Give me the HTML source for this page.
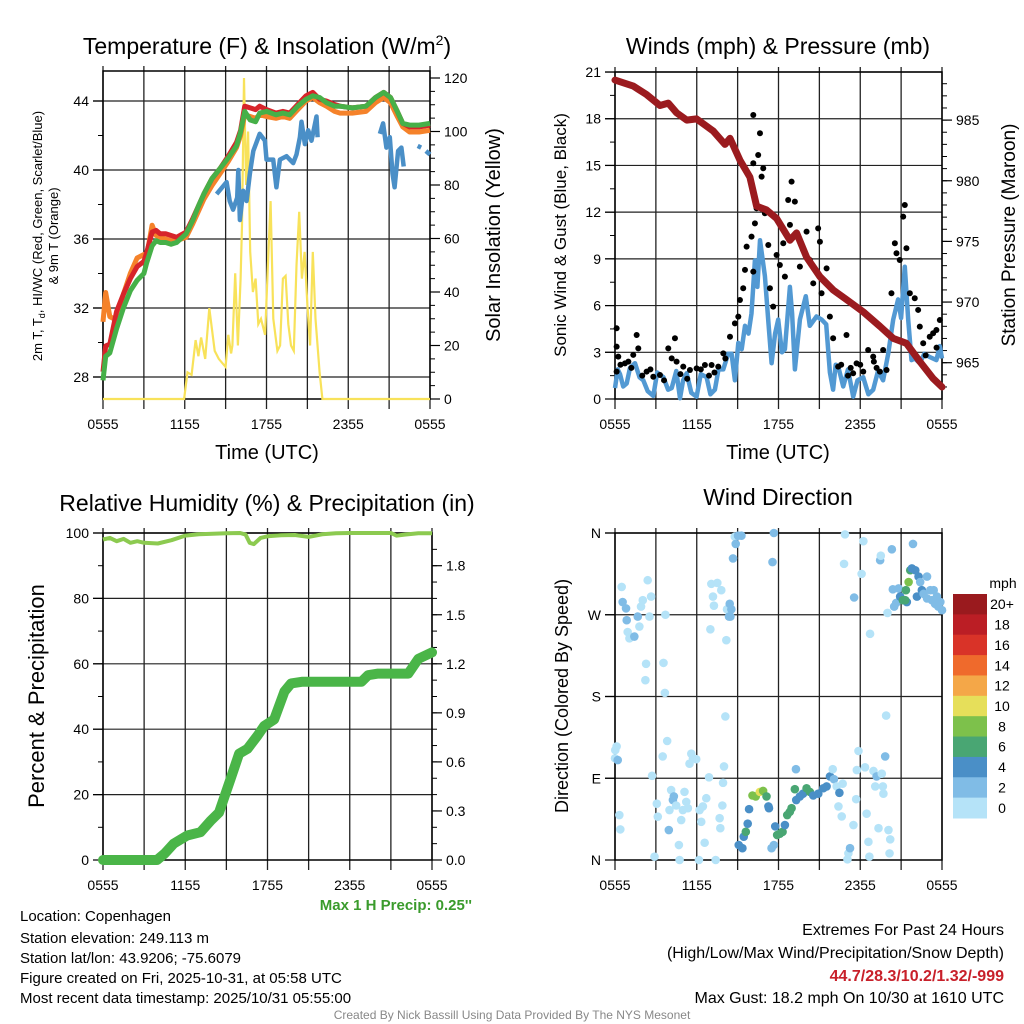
<!DOCTYPE html>
<html><head><meta charset="utf-8"><style>
html,body{margin:0;padding:0;background:#fff;}
svg{display:block;font-family:"Liberation Sans",Arial,sans-serif;}
</style></head><body>
<svg id="fig" width="1024" height="1024" viewBox="0 0 1024 1024" xmlns="http://www.w3.org/2000/svg">
<rect width="1024" height="1024" fill="#fff"/>
<text x="267" y="54" font-size="23" text-anchor="middle">Temperature (F) &amp; Insolation (W/m<tspan font-size="14" dy="-9">2</tspan><tspan dy="9">)</tspan></text>
<text x="778" y="54" font-size="23" text-anchor="middle">Winds (mph) &amp; Pressure (mb)</text>
<text x="267" y="511" font-size="23" text-anchor="middle">Relative Humidity (%) &amp; Precipitation (in)</text>
<text x="778" y="505" font-size="23" text-anchor="middle">Wind Direction</text>
<text x="267" y="459" font-size="20" text-anchor="middle">Time (UTC)</text>
<text x="778" y="459" font-size="20" text-anchor="middle">Time (UTC)</text>
<text transform="translate(42,236) rotate(-90)" font-size="13" text-anchor="middle">2m T, T<tspan font-size="9" dy="3">d</tspan><tspan dy="-3">, HI/WC (Red, Green, Scarlet/Blue)</tspan></text>
<text transform="translate(58,236) rotate(-90)" font-size="13" text-anchor="middle">&amp; 9m T (Orange)</text>
<text transform="translate(500,235) rotate(-90)" font-size="20" text-anchor="middle">Solar Insolation (Yellow)</text>
<text transform="translate(566,235) rotate(-90)" font-size="17" text-anchor="middle">Sonic Wind &amp; Gust (Blue, Black)</text>
<text transform="translate(1015,235) rotate(-90)" font-size="19" text-anchor="middle">Station Pressure (Maroon)</text>
<text transform="translate(44,696) rotate(-90)" font-size="22" text-anchor="middle">Percent &amp; Precipitation</text>
<text transform="translate(568,696) rotate(-90)" font-size="18" text-anchor="middle">Direction (Colored By Speed)</text>
<text x="472" y="910" font-size="15" font-weight="bold" fill="#3a9b2c" text-anchor="end">Max 1 H Precip: 0.25''</text>
<g font-size="15">
<text x="20" y="921">Location: Copenhagen</text>
<text x="20" y="943">Station elevation: 249.113 m</text>
<text x="20" y="963">Station lat/lon: 43.9206; -75.6079</text>
<text x="20" y="983">Figure created on Fri, 2025-10-31, at 05:58 UTC</text>
<text x="20" y="1003">Most recent data timestamp: 2025/10/31 05:55:00</text>
</g>
<g font-size="16" text-anchor="end">
<text x="1004" y="935">Extremes For Past 24 Hours</text>
<text x="1004" y="958">(High/Low/Max Wind/Precipitation/Snow Depth)</text>
<text x="1004" y="981" font-weight="bold" fill="#c8202a">44.7/28.3/10.2/1.32/-999</text>
<text x="1004" y="1003">Max Gust: 18.2 mph On 10/30 at 1610 UTC</text>
</g>
<text x="512" y="1019" font-size="12" fill="#888" text-anchor="middle">Created By Nick Bassill Using Data Provided By The NYS Mesonet</text>
<g id="charts"></g>
</svg>
<script>
const timeTickLabels=["0555","1155","1755","2355","0555"];
const tempT=[0,0.2,0.5,1.0,1.5,2.0,2.5,3.0,3.2,3.6,3.9,4.2,4.6,5.0,5.4,6.1,6.6,7.0,7.4,8.0,8.6,9.2,9.8,10.1,10.4,10.8,11.2,11.5,12.0,12.7,13.2,13.7,14.3,14.9,15.4,15.9,16.4,17.0,17.4,18.3,19.3,20.0,20.6,21.1,21.6,22.0,22.5,23.2,24];
const tempRed=[28.3,29.8,29.9,31.8,32.8,33.7,34.4,34.7,35.2,36.4,36.5,36.3,36.3,36.2,36.1,36.4,37.2,37.9,38.6,39.5,40.1,40.8,41.6,42.3,43.7,43.6,43.5,43.7,43.5,43.3,43.4,43.3,43.8,44.3,44.5,44.1,44.0,43.8,43.7,43.6,43.7,44.2,44.5,44.2,43.4,42.7,42.5,42.5,42.6];
const tempGreen=[27.8,29.2,29.4,30.8,32.0,33.0,33.6,34.0,34.6,35.6,35.9,35.8,35.8,35.7,35.8,36.3,37.1,37.9,38.6,39.5,40.1,40.7,41.4,42.2,43.4,42.9,42.8,43.3,43.4,43.2,43.3,43.2,43.7,44.1,44.3,44.2,43.9,43.7,43.7,43.6,43.7,44.2,44.5,44.2,43.4,42.7,42.6,42.6,42.7];
const tempOrange=[31.2,32.9,31.5,31.3,32.8,34.0,34.9,35.1,35.0,36.8,36.2,36.1,36.0,35.9,35.9,36.1,36.9,37.6,38.3,39.1,39.8,40.5,41.3,42.0,43.2,43.1,43.0,43.2,43.1,43.0,43.1,43.0,43.5,44.0,44.2,43.9,43.7,43.4,43.3,43.3,43.4,43.9,44.2,43.9,43.1,42.5,42.2,42.2,42.3];
const hiT=[8.34,9.07,9.3,9.55,9.85,9.93,10.05,10.29,10.54,10.78,11.03,11.5,11.88,12.0,12.49,12.73,12.98,13.47,13.96,14.2,14.45,14.57,14.82,15.06,15.3,15.67,15.75,16,20.32,20.56,20.8,21.05,21.25,21.4,21.66,21.9,22.07,22.5,23.1,23.35,23.5,23.7,24];
const hiVal=[38.6,39.3,38.2,37.7,38.4,40.0,37.1,38.8,38.2,39.8,41.1,42.1,41.7,40.6,40.6,39.0,40.6,40.8,40.4,40.9,41.9,42.8,41.5,42.3,41.7,43.1,41.9,null,42.1,42.7,41.3,41.9,39.8,39.0,41.1,41.3,40.2,null,41.4,41.3,null,41.1,40.9];
const solarT=[0,5.95,6.2,6.5,6.8,7.0,7.2,7.5,7.8,8.2,8.5,9.0,9.2,9.4,9.5,9.7,9.9,10.1,10.2,10.35,10.5,10.65,10.8,11.0,11.2,11.4,11.6,11.9,12.1,12.3,12.5,12.8,13.0,13.2,13.4,13.6,13.8,14.0,14.2,14.4,14.6,14.8,15.0,15.2,15.4,15.6,15.9,16.1,24];
const solarVal=[0,0,10,9,22,16,23,15,34,18,15,12,24,17,20,47,20,45,65,120,80,100,55,40,45,28,30,24,50,74,30,18,20,45,46,28,20,18,50,70,45,55,35,20,55,30,10,0,0];
const windT=[0,0.2,0.37,0.6,0.86,1.1,1.47,1.8,2.08,2.4,2.81,3.1,3.55,3.9,4.16,4.5,4.77,5.0,5.26,5.6,5.99,6.3,6.72,7.0,7.33,7.6,7.95,8.3,8.56,8.8,9.05,9.3,9.54,9.8,10.02,10.27,10.45,10.64,11.0,11.25,11.49,11.75,11.98,12.25,12.47,12.84,13.0,13.2,13.57,14.0,14.3,14.79,15.16,15.5,15.77,16.01,16.2,16.38,16.75,17.1,17.48,17.8,18.22,18.6,18.95,19.3,19.68,20.05,20.42,20.78,21.0,21.27,21.52,21.76,22.0,22.37,22.7,23.1,23.59,23.84,24];
const windVal=[0.7,1.9,1.6,0.8,1.0,2.0,2.3,1.4,1.2,0.5,0.2,1.7,1.4,0.6,0.7,1.8,0.05,1.2,1.65,0.4,0.15,1.6,1.4,0.3,0.6,1.9,1.9,2.9,2.9,1.2,3.6,3.2,4.7,4.2,5.5,8.9,7.2,10.2,7.9,5.0,2.3,4.2,5.1,3.0,3.2,7.2,5.5,1.9,5.1,6.6,4.7,5.3,5.1,4.8,1.7,0.6,2.2,2.1,0.8,1.9,0.15,1.2,1.4,0.3,0.6,1.8,1.2,2.9,5.1,6.4,5.2,8.5,5.1,2.5,2.6,2.3,2.9,2.7,2.5,3.4,2.6];
const gustT=[0.12,0.12,0.24,0.12,0.73,0.98,1.34,1.59,1.71,2.32,2.81,3.3,3.91,4.16,4.4,4.52,5.01,5.5,5.99,6.6,7.09,7.58,7.95,8.44,8.8,9.05,9.17,9.41,9.54,9.66,10.02,10.15,10.27,10.39,10.51,10.64,10.76,10.88,10.15,10.15,11.0,11.25,11.37,11.61,11.86,12.1,12.35,12.47,12.71,12.96,13.2,12.84,13.57,13.81,14.06,14.3,14.55,14.91,15.04,15.16,15.53,15.77,16.01,16.38,16.99,17.48,17.73,18.22,18.58,18.95,19.44,19.68,19.93,20.29,20.54,20.66,20.9,21.15,21.27,21.39,21.64,22.0,22.25,22.37,22.62,23.1,23.35,23.59,23.84,1.2,2.0,3.6,4.8,6.3,6.9,7.3,16.6,17.1,18.0,19.2,22.8,23.6,0.4,2.6,5.3,8.1,17.3,19.0];
const gustVal=[4.54,3.36,2.72,1.76,2.29,2.4,2.83,4.11,3.25,1.76,1.43,1.54,3.25,2.61,3.9,2.4,2.08,1.86,1.97,2.18,2.18,2.08,2.93,4.0,4.86,5.29,6.36,7.11,8.29,9.79,10.43,8.18,11.28,12.25,15.67,17.07,14.28,14.82,18.24,15.14,11.93,9.89,7.11,5.93,9.25,8.61,10.0,7.86,12.78,13.96,12.68,11.18,8.5,9.57,10.75,8.93,7.43,10.96,10.1,6.79,8.39,5.29,3.9,2.08,4.11,1.65,2.29,1.76,3.15,2.72,1.76,3.15,1.86,6.79,10.0,9.36,8.93,11.71,12.46,9.68,6.79,6.47,5.72,4.65,3.58,4.0,4.22,4.43,5.07,2.0,1.5,1.2,1.6,1.9,1.5,1.7,2.2,1.5,2.2,2.0,2.8,3.3,2.2,1.9,1.3,2.6,2.0,2.4];
const presT=[0,1.34,2.32,3.3,3.91,4.52,5.26,5.99,7.21,8.07,8.44,9.17,9.9,10.39,11.12,11.86,12.84,13.33,14.06,15.04,16.01,16.99,18.22,19.44,20.42,21.39,22.37,23.35,24];
const presVal=[988.3,987.8,987.1,986.2,986.4,985.6,985.0,985.1,984.1,983.0,983.5,981.7,980.3,977.9,977.6,976.9,975.1,975.7,973.7,972.1,971.0,970.2,969.2,968.0,967.0,966.6,965.1,963.7,963.0];
const rhT=[0,0.5,1.0,1.5,2.0,2.5,3.0,4.0,5.0,6.0,7.0,8.0,9.0,10.0,10.4,10.7,11.0,11.5,12.0,13.0,14.0,15.0,16.0,17.0,18.0,19.0,20.0,21.0,21.4,22.0,23.0,24];
const rhVal=[98,98.5,97.5,98.2,97,97.5,97,96.8,97.8,99.2,99.6,99.8,99.9,100,99.5,97,96.6,98.5,99,99.3,99.4,98.8,99.6,99.9,100,100,100,100,99.2,99.5,99.9,99.9];
const precipT=[0,3.94,4.5,5.16,6.14,7.11,7.85,8.46,9.32,9.93,10.54,11.27,11.76,12.49,13.23,13.72,14.5,18.85,19.34,20.07,22.27,23.0,24];
const precipVal=[0,0,0.04,0.1,0.15,0.17,0.24,0.29,0.5,0.65,0.68,0.76,0.82,0.86,1.03,1.08,1.09,1.09,1.13,1.14,1.14,1.23,1.27];
const dirT=[0.49,0.56,0.81,0.86,0.93,1.06,1.42,1.67,1.79,1.91,2.04,2.4,2.28,2.23,2.53,2.65,0.02,0.12,0,0.2,0.32,0.39,2.72,2.9,3.07,3.14,3.56,3.7,3.66,3.83,3.5,4.0,4.12,4.32,4.25,3.95,4.49,4.69,4.74,4.86,5.1,5.23,5.35,4.98,5.6,5.72,5.96,5.47,6.16,6.21,6.45,6.58,6.33,6.7,6.9,7.0,7.07,7.51,7.19,7.8,7.26,7.39,7.68,7.73,7.88,7.93,8.0,8.1,8.17,8.22,8.37,8.42,8.54,8.47,8.79,9.03,9.28,8.86,8.66,11.66,11.56,9.08,9.35,9.45,9.6,9.74,9.84,10.09,10.33,10.63,10.87,11.12,11.26,11.3,11.49,11.66,11.76,11.9,12.1,12.3,12.47,12.64,12.83,12.96,13.2,13.3,13.57,13.8,14.06,14.3,14.55,14.92,15.29,15.53,15.78,16.07,13.28,15.98,16.27,16.47,16.4,16.64,16.71,16.88,16.81,17.5,17.13,17.25,17.06,17.55,17.7,17.87,17.75,18.1,18.23,18.35,18.47,18.6,18.67,18.72,18.97,19.1,19.2,19.46,19.51,19.34,19.58,19.66,19.7,19.83,19.9,20.0,20.07,20.2,20.15,20.32,20.39,20.49,20.64,20.81,20.93,21.13,21.35,21.42,21.3,21.55,21.67,21.79,21.87,22.04,22.16,22.28,22.4,22.52,22.65,22.9,22.9,23.14,23.39,23.63,23.88,24,23.73,23.49,23.26];
const dirDeg=[300.6,284,277,264,251,244,246,268,257,279,286,308,216,198,268,290,121,125,112,110,49.5,33.7,92.7,3.7,62,47.7,217,270,184,131,114,55,77,70,66,33,60,16.5,0,44,75,64,57,55,117,112,111,106,0,55,59,19,42,68,91,254,304,305,290,297,280,0,46,35,60,85,103,158,242,276,268,282,276,268,356,357,357,348,332,360,328,16.5,13,25.7,31,40,56,71,70,75,76,70,59,57,13,16.5,37,27.5,29,31,38.5,49.5,53,57,78,66,70,73,79,75,71,73,79,81,92,89,100,100,81,74,59,48,84,358.5,326,38.5,7.3,13,0.7,289,67,120,99,315,351,102,51,20,3.7,249,98,81,92,330,335,35,95,81,73,114,159,272,33,22.7,7.3,342,298,279,283,299,290,286,297,284,286,306,319,321,348,319,290,312,306,297,293,312,288,297,297,290,284,275,279,282,286];
const dirSpd=[1,3,3,3,1,1,3,3,1,1,1,1,1,1,1,1,1,1,1,3,1,1,1,1,1,1,1,1,1,1,1,1,1,3,3,3,1,1,1,1,1,1,1,1,1,1,1,1,1,1,1,1,1,1,1,1,1,1,1,1,1,1,1,1,1,1,1,1,1,1,3,3,3,3,1,3,3,3,3,3,3,4,4,4,6,4,4,8,8,10,8,6,4,4,3,3,4,6,6,6,4,6,6,6,6,4,4,4,6,6,4,4,4,4,4,3,3,1,1,4,1,1,1,1,1,1,1,3,1,3,1,1,1,1,1,1,1,1,1,1,1,1,3,3,1,1,1,1,1,3,1,1,1,1,1,3,3,3,3,3,4,6,6,4,6,8,6,4,3,4,4,4,3,4,3,3,3,3,3,3,3,3,3,3,3,3,3,3,3];
const cbLabels=["20+","18","16","14","12","10","8","6","4","2","0"];
const cbColors=["#9a1a1e","#bb1e25","#d93328","#ef6a2c","#f4a748","#e6df5a","#7dc14b","#49a673","#4a8fc7","#80bce6","#b5e3f8"];

const NS="http://www.w3.org/2000/svg";
const root=document.getElementById('charts');
function mk(tag,attrs,parent){const e=document.createElementNS(NS,tag);for(const k in attrs)e.setAttribute(k,attrs[k]);(parent||root).appendChild(e);return e;}
function pathD(ts,vs,sx,sy){let d="",pen=false;for(let i=0;i<ts.length;i++){if(vs[i]===null){pen=false;continue;}d+=(pen?"L":"M")+sx(ts[i]).toFixed(1)+" "+sy(vs[i]).toFixed(1);pen=true;}return d;}
function speedColor(s){const idx=Math.min(10,Math.floor(s/2));return cbColors[10-idx];}

function frame(name,x0,x1,y0,y1,hGrid,sy){
  const g=mk('g',{});
  
  
  for(let h=0;h<=24;h+=3){const x=x0+(x1-x0)*h/24;const l=mk('line',{x1:x,x2:x,y1:y0-5,y2:y1+10,stroke:'#222','stroke-width':1.3},g);
    
    }
  for(let i=0;i<5;i++){const t=mk('text',{x:x0+(x1-x0)*i/4,y:y1+30,'font-size':14,'text-anchor':'middle'},g);t.textContent=timeTickLabels[i];
    
    }
  hGrid.forEach(v=>{const y=sy(v);const l=mk('line',{x1:x0-10,x2:x1,y1:y,y2:y,stroke:'#222','stroke-width':1.2},g);
    
    });
  const r=mk('rect',{x:x0,y:y0,width:x1-x0,height:y1-y0,fill:'none',stroke:'#000','stroke-width':1.5},g);
  
  
  return g;
}
function yTicks(name,x,side,vals,sy,labels,minor){
  const dir=side==='left'?-1:1;
  vals.forEach((v,i)=>{const y=sy(v);mk('line',{x1:x,x2:x+dir*10,y1:y,y2:y,stroke:'#000','stroke-width':1.2});
    const t=mk('text',{x:x+dir*14,y:y+5,'font-size':14,'text-anchor':side==='left'?'end':'start'});t.textContent=labels[i];
    
    });
  (minor||[]).forEach(v=>{const y=sy(v);mk('line',{x1:x,x2:x+dir*5,y1:y,y2:y,stroke:'#000','stroke-width':1});});
}
function range(a,b,s){const r=[];for(let v=a;v<=b+1e-9;v+=s)r.push(Math.round(v*100)/100);return r;}

// Panel 1: temperature
(function(){
  const x0=103,x1=430,y0=71,y1=399;
  const sx=t=>x0+(x1-x0)*t/24, sy=v=>377-(v-28)*17.25, ss=v=>399-v*321/120;
  frame('temp',x0,x1,y0,y1,[28,32,36,40,44],sy);
  yTicks('temp-y',x0,'left',[28,32,36,40,44],sy,["28","32","36","40","44"],[30,34,38,42]);
  yTicks('solar-y',x1,'right',[0,20,40,60,80,100,120],ss,["0","20","40","60","80","100","120"],range(5,115,5));
  const ys=mk('path',{d:pathD(solarT,solarVal,sx,ss),fill:'none',stroke:'#f8e25a','stroke-width':2.2});
  
  
  const o=mk('path',{d:pathD(tempT,tempOrange,sx,sy),fill:'none',stroke:'#f5822a','stroke-width':5,'stroke-linejoin':'round'});
  
  
  const r=mk('path',{d:pathD(tempT,tempRed,sx,sy),fill:'none',stroke:'#d7242a','stroke-width':5,'stroke-linejoin':'round'});
  
  
  const gr=mk('path',{d:pathD(tempT,tempGreen,sx,sy),fill:'none',stroke:'#46b048','stroke-width':5,'stroke-linejoin':'round'});
  
  
  const b=mk('path',{d:pathD(hiT,hiVal,sx,sy),fill:'none',stroke:'#4a8fc7','stroke-width':4.5,'stroke-linejoin':'round'});
  
  
})();

// Panel 2: winds
(function(){
  const x0=615,x1=942,y0=72,y1=399;
  const sx=t=>x0+(x1-x0)*t/24, sy=v=>399-v*15.57, sp=p=>362.7-(p-965)*12.13;
  frame('wind',x0,x1,y0,y1,[3,6,9,12,15,18,21],sy);
  yTicks('wind-y',x0,'left',range(0,21,3),sy,["0","3","6","9","12","15","18","21"],range(1.5,19.5,3));
  yTicks('pressure-y',x1,'right',[965,970,975,980,985],sp,["965","970","975","980","985"],range(963,988,1));
  const w=mk('path',{d:pathD(windT,windVal,sx,sy),fill:'none',stroke:'#5299d3','stroke-width':4.5,'stroke-linejoin':'round'});
  
  
  for(let i=0;i<gustT.length;i++){const c=mk('circle',{cx:sx(gustT[i]),cy:sy(gustVal[i]),r:3,fill:'#000'});
    
    }
  const p=mk('path',{d:pathD(presT,presVal,sx,sp),fill:'none',stroke:'#9b1b1f','stroke-width':7,'stroke-linejoin':'round','stroke-linecap':'round'});
  
  
})();

// Panel 3: RH & precip
(function(){
  const x0=103,x1=432,y0=533,y1=860;
  const sx=t=>x0+(x1-x0)*t/24, sy=v=>860-v*3.27, spr=v=>860-v*50*3.27;
  frame('humidity',x0,x1,y0,y1,[20,40,60,80,100],sy);
  yTicks('humidity-y',x0,'left',[0,20,40,60,80,100],sy,["0","20","40","60","80","100"],[10,30,50,70,90]);
  yTicks('precip-y',x1,'right',[0,0.3,0.6,0.9,1.2,1.5,1.8],spr,["0.0","0.3","0.6","0.9","1.2","1.5","1.8"],range(0.1,1.9,0.1));
  const rh=mk('path',{d:pathD(rhT,rhVal,sx,sy),fill:'none',stroke:'#8cca50','stroke-width':4,'stroke-linejoin':'round'});
  
  
  const pr=mk('path',{d:pathD(precipT,precipVal,sx,spr),fill:'none',stroke:'#4ab548','stroke-width':10,'stroke-linejoin':'round','stroke-linecap':'round'});
  
  
})();

// Panel 4: wind direction
(function(){
  const x0=615,x1=942,y0=533,y1=860;
  const sx=t=>x0+(x1-x0)*t/24, sy=d=>860-d*327/360;
  frame('direction',x0,x1,y0,y1,[90,180,270,360],sy);
  yTicks('direction-y',x0,'left',[0,90,180,270,360],sy,["N","E","S","W","N"],[]);
  for(let i=0;i<dirT.length;i++){const c=mk('circle',{cx:sx(dirT[i]),cy:sy(dirDeg[i]),r:4.3,fill:speedColor(dirSpd[i])});
    
    }
  const t=mk('text',{x:1003,y:588,'font-size':14,'text-anchor':'middle'});t.textContent='mph';
  
  
  const bh=224/11;
  for(let i=0;i<11;i++){const r=mk('rect',{x:953,y:594+i*bh,width:34,height:bh+0.5,fill:cbColors[i]});
    
    
    const l=mk('text',{x:1002,y:594+i*bh+bh/2+5,'font-size':14,'text-anchor':'middle'});l.textContent=cbLabels[i];
    
    }
})();
</script>
</body></html>
